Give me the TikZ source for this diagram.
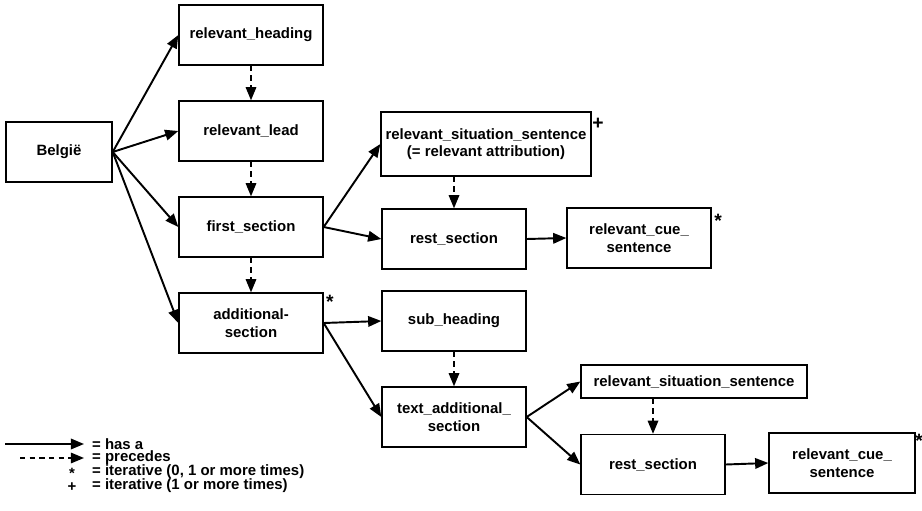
\documentclass[tikz,border=0pt]{standalone}
\usepackage{fontspec}
\setmainfont{Liberation Sans}
\usetikzlibrary{arrows.meta, positioning}

\tikzset{
  txt/.style={font=\bfseries\fontsize{8.5}{10}\selectfont},
  box/.style={txt, draw, line width=0.8pt, align=center, inner sep=1pt,
    minimum width=2.88cm, minimum height=1.2cm},
  hasa/.style={line width=1.1pt, -{Triangle[length=7.5pt,width=6pt]}},
  precedes/.style={line width=0.9pt, dash pattern=on 3pt off 2.5pt,
    -{Triangle[length=7.5pt,width=6pt]}},
  itermark/.style={font=\bfseries\fontsize{11}{12}\selectfont, inner sep=0pt}
}

\begin{document}
\begin{tikzpicture}[x=0.02cm, y=-0.02cm]
        \useasboundingbox (0,0) rectangle (922,510);

        % boxes
        \node[box, minimum width=2.12cm] (belgie) at (59,152) {België};
        \node[box] (heading) at (251,35) {relevant\_heading};
        \node[box] (lead) at (251,131) {relevant\_lead};
        \node[box] (first) at (251,227) {first\_section};
        \node[box] (addit) at (251,323) {additional-\\section};
        \node[box, minimum width=4.2cm, minimum height=1.28cm] (sitA) at (486,144)
            {relevant\_situation\_sentence\\(= relevant attribution)};
        \node[box] (restA) at (454,239) {rest\_section};
        \node[box] (cueA) at (639,238) {relevant\_cue\_\\sentence};
        \node[box] (subhead) at (454,321) {sub\_heading};
        \node[box] (textadd) at (454,417) {text\_additional\_\\section};
        \node[box, minimum width=4.52cm, minimum height=0.66cm] (sitB) at (694,381.5)
            {relevant\_situation\_sentence};
        \node[box] (restB) at (653,464.5) {rest\_section};
        \node[box, minimum width=2.92cm] (cueB) at (842,463) {relevant\_cue\_\\sentence};

        % iteration marks
        \node[itermark] (m1) at (330,302) {*};
        \node[itermark] (m2) at (598,124) {+};
        \node[itermark] (m3) at (718,221) {*};
        \node[itermark] (m4) at (919,441) {*};

        % has a
        \draw[hasa] (belgie.east) -- (heading.west);
        \draw[hasa] (belgie.east) -- (lead.west);
        \draw[hasa] (belgie.east) -- (first.west);
        \draw[hasa] (belgie.east) -- (addit.west);
        \draw[hasa] (first.east) -- (sitA.west);
        \draw[hasa] (first.east) -- (restA.west);
        \draw[hasa] (restA.east) -- (cueA.west);
        \draw[hasa] (addit.east) -- (subhead.west);
        \draw[hasa] (addit.east) -- (textadd.west);
        \draw[hasa] (textadd.east) -- (sitB.west);
        \draw[hasa] (textadd.east) -- (restB.west);
        \draw[hasa] (restB.east) -- (cueB.west);

        % precedes
        \draw[precedes] (heading) -- (lead);
        \draw[precedes] (lead) -- (first);
        \draw[precedes] (first) -- (addit);
        \draw[precedes] (sitA.south -| restA.north) -- (restA.north);
        \draw[precedes] (subhead) -- (textadd);
        \draw[precedes] (sitB.south -| restB.north) -- (restB.north);

        % legend
        \coordinate (la) at (5,444);
        \coordinate (lb) at (84,444);
        \coordinate (lc) at (20,458);
        \coordinate (ld) at (84,458);
        \draw[hasa] (la) -- (lb);
        \draw[precedes] (lc) -- (ld);
        \node[txt, anchor=west] (l1) at (86,444) {= has a};
        \node[txt, anchor=west] (l2) at (86,458) {= precedes};
        \node[txt, anchor=west] (l3) at (86,472) {= iterative (0, 1 or more times)};
        \node[txt, anchor=west] (l4) at (86,486) {= iterative (1 or more times)};
        \node[txt, inner sep=0pt] (l3m) at (72,473) {*};
        \node[txt, inner sep=0pt] (l4m) at (72,487) {+};
    \end{tikzpicture}
\end{document}
